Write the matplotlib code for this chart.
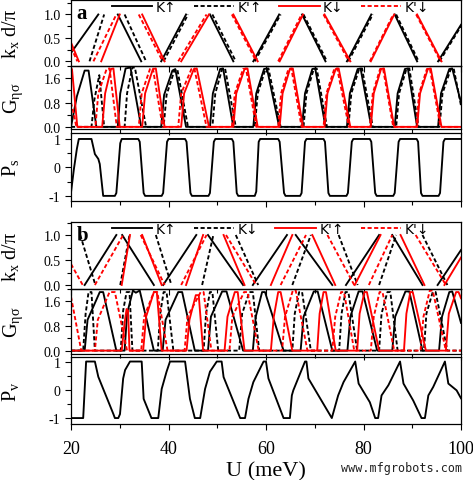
import numpy as np
import matplotlib
matplotlib.use('Agg')
import matplotlib.pyplot as plt
from matplotlib.ticker import MultipleLocator, FixedLocator, FixedFormatter

plt.rcParams['font.family'] = ['Liberation Serif', 'DejaVu Serif']
plt.rcParams['mathtext.fontset'] = 'custom'
plt.rcParams['mathtext.rm'] = 'Liberation Serif'
plt.rcParams['mathtext.it'] = 'Liberation Serif:italic'
plt.rcParams['axes.unicode_minus'] = False

# ---------------- panel a : k_x d / pi (segments of (U, value)) ----------------
kx_a_Kup = [[(20.0, 0.18), (25.6, 1.0)], [(29.6, 1.0), (34.4, 0.0)], [(38.5, 0.0), (43.6, 1.0)],
            [(48.5, 1.0), (53.3, 0.0)], [(57.4, 0.0), (62.7, 1.0)], [(67.4, 1.0), (72.2, 0.0)],
            [(76.6, 0.0), (81.6, 1.0)], [(86.4, 1.0), (91.0, 0.0)], [(95.3, 0.0), (100.0, 0.78)]]
kx_a_Kpup = [[(23.8, 0.0), (26.8, 1.0)], [(31.0, 1.0), (35.4, 0.0)], [(39.0, 0.0), (44.0, 1.0)],
             [(49.0, 1.0), (53.8, 0.0)], [(57.7, 0.0), (63.0, 1.0)], [(67.7, 1.0), (72.5, 0.0)],
             [(76.9, 0.0), (81.9, 1.0)], [(86.7, 1.0), (91.3, 0.0)], [(95.6, 0.0), (100.0, 0.75)]]
kx_a_Kdn = [[(20.0, 0.4), (21.6, 0.0)], [(26.2, 0.0), (30.0, 1.0)], [(34.6, 1.0), (39.2, 0.0)],
            [(42.6, 0.0), (48.3, 1.0)], [(53.3, 1.0), (58.3, 0.0)], [(62.8, 0.0), (67.6, 1.0)],
            [(72.0, 1.0), (77.3, 0.0)], [(81.5, 0.0), (86.3, 1.0)], [(91.0, 1.0), (96.0, 0.0)]]
kx_a_Kpdn = [[(20.0, 0.3), (21.3, 0.0)], [(24.6, 0.0), (29.3, 1.0)], [(33.9, 1.0), (38.8, 0.0)],
             [(42.0, 0.0), (47.8, 1.0)], [(53.0, 1.0), (58.0, 0.0)], [(62.5, 0.0), (67.3, 1.0)],
             [(71.8, 1.0), (77.0, 0.0)], [(81.3, 0.0), (86.1, 1.0)], [(90.8, 1.0), (95.8, 0.0)]]

# ---------------- panel a : G_eta sigma ----------------
G_a_Kup = [(20.0, 0.0), (21.2, 1.0), (22.8, 1.85), (23.6, 1.85), (25.2, 0.0),
           (29.6, 0.0), (30.1, 1.1), (31.2, 1.92), (32.2, 1.95), (34.4, 0.0),
           (38.5, 0.0), (39.1, 1.05), (40.8, 1.85), (41.4, 1.9), (43.6, 0.0),
           (48.5, 0.0), (49.1, 1.1), (50.6, 1.9), (51.2, 1.92), (53.3, 0.0),
           (57.4, 0.0), (58.0, 1.1), (59.6, 1.9), (60.2, 1.92), (62.7, 0.0),
           (67.4, 0.0), (68.0, 1.1), (69.5, 1.9), (70.1, 1.92), (72.2, 0.0),
           (76.6, 0.0), (77.2, 1.1), (78.8, 1.9), (79.4, 1.92), (81.6, 0.0),
           (86.4, 0.0), (87.0, 1.1), (88.5, 1.9), (89.1, 1.92), (91.0, 0.0),
           (95.3, 0.0), (95.9, 1.1), (97.6, 1.9), (98.2, 1.92), (100.0, 0.8)]
G_a_Kpup = [(20.0, 0.0), (24.2, 0.0), (24.8, 0.9), (25.8, 1.7), (26.8, 0.0),
            (31.0, 0.0), (31.5, 1.1), (32.6, 1.95), (33.1, 1.95), (35.4, 0.0),
            (39.0, 0.0), (39.6, 1.05), (41.2, 1.85), (41.8, 1.9), (44.0, 0.0),
            (49.0, 0.0), (49.6, 1.1), (51.0, 1.9), (51.6, 1.92), (53.8, 0.0),
            (57.7, 0.0), (58.3, 1.1), (59.9, 1.9), (60.5, 1.92), (63.0, 0.0),
            (67.7, 0.0), (68.3, 1.1), (69.8, 1.9), (70.4, 1.92), (72.5, 0.0),
            (76.9, 0.0), (77.5, 1.1), (79.1, 1.9), (79.7, 1.92), (81.9, 0.0),
            (86.7, 0.0), (87.3, 1.1), (88.8, 1.9), (89.4, 1.92), (91.3, 0.0),
            (95.6, 0.0), (96.2, 1.1), (97.9, 1.9), (98.5, 1.92), (100.0, 0.7)]
G_a_Kdn = [(20.0, 1.9), (20.2, 1.9), (21.3, 0.0),
           (26.4, 0.0), (27.0, 1.1), (28.2, 1.9), (28.7, 1.92), (30.0, 0.0),
           (34.6, 0.0), (35.2, 1.1), (36.8, 1.9), (37.4, 1.92), (39.2, 0.0),
           (42.6, 0.0), (43.2, 1.1), (45.2, 1.9), (45.8, 1.92), (48.3, 0.0),
           (53.3, 0.0), (53.9, 1.1), (55.6, 1.9), (56.2, 1.92), (58.3, 0.0),
           (62.8, 0.0), (63.4, 1.1), (64.9, 1.9), (65.5, 1.92), (67.6, 0.0),
           (72.0, 0.0), (72.6, 1.1), (74.3, 1.9), (74.9, 1.92), (77.3, 0.0),
           (81.5, 0.0), (82.1, 1.1), (83.6, 1.9), (84.2, 1.92), (86.3, 0.0),
           (91.0, 0.0), (91.6, 1.1), (93.2, 1.9), (93.8, 1.92), (96.0, 0.0), (100.0, 0.0)]
G_a_Kpdn = [(20.0, 0.8), (20.6, 0.4), (21.1, 0.0),
            (25.0, 0.0), (25.6, 1.1), (27.3, 1.9), (27.9, 1.92), (29.4, 0.0),
            (33.9, 0.0), (34.5, 1.1), (36.2, 1.9), (36.8, 1.92), (38.8, 0.0),
            (42.0, 0.0), (42.6, 1.1), (44.7, 1.9), (45.3, 1.92), (47.8, 0.0),
            (53.0, 0.0), (53.6, 1.1), (55.3, 1.9), (55.9, 1.92), (58.0, 0.0),
            (62.5, 0.0), (63.1, 1.1), (64.6, 1.9), (65.2, 1.92), (67.3, 0.0),
            (71.8, 0.0), (72.4, 1.1), (74.0, 1.9), (74.6, 1.92), (77.0, 0.0),
            (81.3, 0.0), (81.9, 1.1), (83.4, 1.9), (84.0, 1.92), (86.1, 0.0),
            (90.8, 0.0), (91.4, 1.1), (93.0, 1.9), (93.6, 1.92), (95.8, 0.0), (100.0, 0.0)]

# ---------------- panel a : P_s ----------------
P_s = [(20.0, -0.88), (20.6, -0.05), (21.2, 0.65), (21.6, 1.0), (24.2, 1.0), (24.9, 0.47), (25.6, 0.3),
       (25.9, 0.12), (26.6, -1.0), (29.0, -1.0), (29.3, -0.9), (30.1, 0.85), (30.4, 1.0), (33.8, 1.0),
       (34.1, 0.9), (34.9, -0.9), (35.2, -1.0), (38.6, -1.0), (38.9, -0.9), (39.7, 0.9), (40.0, 1.0),
       (43.4, 1.0), (43.7, 0.9), (44.5, -0.9), (44.8, -1.0), (48.2, -1.0), (48.5, -0.9), (49.3, 0.9),
       (49.6, 1.0), (53.0, 1.0), (53.3, 0.9), (54.0, -0.9), (54.3, -1.0), (57.7, -1.0), (58.0, -0.85),
       (58.5, 0.9), (58.8, 1.0), (62.5, 1.0), (62.8, 0.9), (63.7, -0.9), (64.0, -1.0), (67.0, -1.0),
       (67.3, -0.9), (68.0, 0.9), (68.3, 1.0), (71.8, 1.0), (72.1, 0.9), (72.8, -0.9), (73.1, -1.0),
       (76.5, -1.0), (76.8, -0.9), (77.6, 0.9), (77.9, 1.0), (81.3, 1.0), (81.6, 0.9), (82.4, -0.9),
       (82.7, -1.0), (86.1, -1.0), (86.4, -0.9), (87.2, 0.9), (87.5, 1.0), (90.9, 1.0), (91.2, 0.9),
       (91.8, -0.9), (92.1, -1.0), (95.4, -1.0), (95.7, -0.9), (96.4, 0.9), (96.7, 1.0), (100.0, 1.0)]

# ---------------- panel b : k_x d / pi ----------------
kx_b_Kup = [[(22.8, 0.0), (29.3, 1.0)], [(30.5, 1.0), (37.0, 0.0)], [(38.9, 0.0), (45.7, 1.0)],
            [(48.1, 1.0), (55.3, 0.0)], [(57.3, 0.0), (64.3, 1.0)], [(66.1, 1.0), (73.6, 0.0)],
            [(76.4, 0.0), (83.2, 1.0)], [(85.9, 1.0), (92.1, 0.0)], [(95.2, 0.0), (100.0, 0.7)]]
kx_b_Kdn = [[(21.9, 1.0), (25.0, 0.0)], [(30.1, 0.0), (32.0, 1.0)], [(37.4, 1.0), (40.6, 0.0)],
            [(46.9, 0.0), (49.2, 1.0)], [(53.8, 1.0), (58.4, 0.0)], [(65.4, 0.0), (69.2, 1.0)],
            [(74.9, 1.0), (78.8, 0.0)], [(83.2, 0.0), (86.7, 1.0)], [(92.1, 1.0), (97.2, 0.0)]]
kx_b_Kpup = [[(30.4, 0.0), (32.1, 1.0)], [(34.6, 1.0), (38.6, 0.0)], [(43.6, 0.0), (47.1, 1.0)],
             [(51.3, 1.0), (55.6, 0.0)], [(61.0, 0.0), (65.4, 1.0)], [(69.5, 1.0), (74.2, 0.0)],
             [(78.2, 0.0), (83.5, 1.0)], [(87.6, 1.0), (92.5, 0.0)], [(96.6, 0.0), (100.0, 0.55)]]
kx_b_Kpdn = [[(20.0, 0.42), (22.4, 0.0)], [(24.9, 0.0), (30.7, 1.0)], [(34.3, 1.0), (39.2, 0.0)],
             [(42.6, 0.0), (47.8, 1.0)], [(51.8, 1.0), (58.0, 0.0)], [(63.0, 0.0), (68.2, 1.0)],
             [(72.6, 1.0), (78.1, 0.0)], [(81.1, 0.0), (85.9, 1.0)], [(90.7, 1.0), (96.9, 0.0)]]

# ---------------- panel b : G_eta sigma ----------------
G_b_Kup = [(20.0, 0.0), (22.8, 0.0), (23.4, 1.0), (25.9, 1.9), (26.6, 1.9), (29.3, 0.0),
           (31.0, 0.0), (31.5, 1.2), (32.7, 1.95), (33.3, 1.88), (34.1, 1.95), (37.0, 0.0),
           (38.8, 0.0), (39.4, 1.0), (42.0, 1.9), (42.8, 1.9), (45.4, 0.0),
           (48.1, 0.0), (48.7, 1.1), (51.0, 1.92), (51.9, 1.92), (55.3, 0.0),
           (57.3, 0.0), (57.9, 1.1), (59.2, 1.9), (59.8, 1.9), (63.6, 0.0),
           (67.1, 0.0), (67.7, 1.1), (69.8, 1.92), (70.6, 1.92), (73.6, 0.0),
           (76.7, 0.0), (77.3, 1.1), (79.0, 1.92), (79.8, 1.92), (82.8, 0.0),
           (85.9, 0.0), (86.5, 1.1), (88.6, 1.92), (89.4, 1.92), (92.1, 0.0),
           (95.5, 0.0), (96.1, 1.1), (97.6, 1.9), (98.2, 1.92), (100.0, 0.9)]
G_b_Kdn = [(20.0, 0.0), (22.5, 0.0), (23.0, 1.2), (23.6, 1.9), (24.2, 1.9), (24.9, 0.0),
           (30.2, 0.0), (30.7, 1.3), (31.4, 1.9), (32.0, 1.9), (32.6, 0.0),
           (37.8, 0.0), (38.3, 1.2), (39.0, 1.9), (39.6, 1.9), (41.0, 0.0),
           (47.2, 0.0), (47.7, 1.2), (48.5, 1.9), (49.0, 1.9), (50.2, 0.0),
           (54.5, 0.0), (55.1, 1.2), (56.6, 1.9), (57.3, 1.9), (58.6, 0.0),
           (65.4, 0.0), (65.9, 1.2), (66.8, 1.9), (67.4, 1.9), (69.2, 0.0),
           (75.0, 0.0), (75.5, 1.2), (76.3, 1.9), (76.9, 1.9), (78.7, 0.0),
           (83.2, 0.0), (83.7, 1.2), (84.9, 1.9), (85.5, 1.9), (87.0, 0.0),
           (92.4, 0.0), (92.9, 1.2), (94.2, 1.9), (94.8, 1.9), (97.2, 0.0), (100.0, 0.0)]
G_b_Kpup = [(20.0, 0.0), (30.4, 0.0), (31.0, 0.9), (31.4, 1.35), (31.7, 1.3), (32.0, 0.0),
            (34.8, 0.0), (35.4, 1.1), (37.0, 1.9), (37.6, 1.9), (38.6, 0.0),
            (43.7, 0.0), (44.3, 1.0), (45.6, 1.8), (46.2, 1.8), (47.1, 0.0),
            (51.5, 0.0), (52.1, 1.1), (53.6, 1.9), (54.2, 1.9), (55.6, 0.0),
            (61.0, 0.0), (61.6, 1.1), (62.5, 1.9), (63.0, 1.9), (65.4, 0.0),
            (70.5, 0.0), (71.0, 1.2), (71.8, 1.9), (72.3, 1.9), (74.3, 0.0),
            (78.7, 0.0), (79.2, 1.2), (80.2, 1.9), (80.7, 1.9), (83.2, 0.0),
            (88.3, 0.0), (88.8, 1.2), (89.6, 1.9), (90.1, 1.9), (92.8, 0.0),
            (96.9, 0.0), (97.5, 1.2), (99.0, 1.9), (99.5, 1.9), (100.0, 1.7)]
G_b_Kpdn = [(20.0, 1.75), (22.1, 0.0),
            (24.9, 0.0), (25.5, 1.0), (27.9, 1.9), (29.0, 1.9), (31.5, 0.0),
            (34.4, 0.0), (35.0, 1.1), (37.0, 1.9), (37.7, 1.9), (39.8, 0.0),
            (43.3, 0.0), (43.9, 1.1), (46.6, 1.9), (47.2, 1.9), (48.8, 0.0),
            (52.5, 0.0), (53.1, 1.1), (55.5, 1.9), (56.2, 1.9), (58.5, 0.0),
            (63.3, 0.0), (63.9, 1.1), (65.5, 1.95), (66.1, 1.95), (68.5, 0.0),
            (73.6, 0.0), (74.2, 1.1), (75.4, 1.9), (76.0, 1.9), (78.1, 0.0),
            (81.5, 0.0), (82.1, 1.1), (83.3, 1.9), (83.9, 1.9), (86.3, 0.0),
            (91.7, 0.0), (92.3, 1.1), (93.6, 1.95), (94.2, 1.95), (96.9, 0.0), (100.0, 0.0)]

# ---------------- panel b : P_v ----------------
P_v = [(20.0, -1.0), (22.5, -1.0), (23.1, 1.0), (24.9, 1.0), (25.6, 0.46), (28.7, -0.86), (29.0, -1.0),
       (29.7, -1.0), (30.05, -0.86), (30.7, 0.4), (31.1, 0.7), (32.1, 1.0), (34.5, 1.0), (34.9, -0.32),
       (36.5, -1.0), (37.9, -1.0), (38.6, 0.03), (39.6, 0.64), (40.3, 1.0), (43.4, 1.0), (44.4, -0.32),
       (45.4, -1.0), (46.5, -1.0), (47.5, 0.03), (48.5, 0.64), (49.9, 1.0), (50.9, 1.0), (51.3, 0.45),
       (54.7, -1.0), (55.7, -1.0), (56.4, -0.32), (57.4, 0.27), (59.5, 1.0), (60.0, 1.0), (60.5, 0.4),
       (63.6, -1.0), (64.9, -1.0), (65.3, -0.2), (65.6, -0.02), (68.0, 1.0), (68.3, 1.0), (68.7, 0.4),
       (73.5, -1.0), (74.8, -0.2), (75.9, 0.27), (78.3, 1.0), (79.0, 0.22), (81.3, -0.44), (82.4, -1.0),
       (83.0, -1.0), (83.7, -0.2), (85.1, 0.16), (87.5, 1.0), (88.2, 0.22), (90.2, -0.38), (91.9, -1.0),
       (92.6, -1.0), (93.3, -0.2), (94.3, 0.1), (96.7, 1.0), (97.4, 0.22), (99.1, -0.02), (100.0, -0.3)]

legend_a = ["K↑", "K'↑", "K↓", "K'↓"]
legend_b = ["K↑", "K↓", "K'↑", "K'↓"]
styles = [('black', '-'), ('black', '--'), ('red', '-'), ('red', '--')]
xticks_major = [20, 40, 60, 80, 100]


def segs_to_xy(segs):
    xs, ys = [], []
    for s in segs:
        for u, v in s:
            xs.append(u)
            ys.append(v)
        xs.append(np.nan)
        ys.append(np.nan)
    return np.array(xs), np.array(ys)


def pts_to_xy(pts):
    a = np.array(pts, dtype=float)
    return a[:, 0], a[:, 1]


fig = plt.figure(figsize=(4.73, 4.81), dpi=100)
FW, FH = 473.0, 481.0
L, W = 71 / FW, 390 / FW


def add_ax(top, bottom):
    ax = fig.add_axes([L, 1 - bottom / FH, W, (bottom - top) / FH])
    ax.patch.set_visible(False)
    return ax


LW = 1.35
DASH = (2.2, 1.3)


def draw(ax, x, y, color, ls, label=None):
    if ls == '--':
        return ax.plot(x, y, color=color, lw=LW, dashes=DASH, label=label)[0]
    return ax.plot(x, y, color=color, lw=LW, ls='-', label=label)[0]


def style_axis(ax, bottom_labels=False, label_x=-0.128):
    ax.set_xlim(20, 100)
    ax.xaxis.set_major_locator(MultipleLocator(20))
    ax.xaxis.set_minor_locator(MultipleLocator(10))
    ax.tick_params(which='both', direction='out', top=False, right=False, width=0.8,
                   labelbottom=bottom_labels)
    ax.tick_params(which='major', length=4.5)
    ax.tick_params(which='minor', length=3)
    ax.tick_params(axis='y', labelsize=10, pad=3)
    ax.tick_params(axis='x', labelsize=13, pad=7)
    for sp in ax.spines.values():
        sp.set_linewidth(0.9)
    ax.yaxis.set_label_coords(label_x, 0.5)


def kx_panel(ax, series, labels, ylim, letter, letter_y):
    hs = []
    for segs, (c, ls), lab in zip(series, styles, labels):
        x, y = segs_to_xy(segs)
        hs.append(draw(ax, x, y, c, ls, lab))
    ax.set_ylim(*ylim)
    ax.yaxis.set_major_locator(FixedLocator([0.0, 0.5, 1.0]))
    ax.yaxis.set_major_formatter(FixedFormatter(['0.0', '0.5', '1.0']))
    ax.yaxis.set_minor_locator(MultipleLocator(0.25))
    ax.set_ylabel('k$_\\mathregular{x}$ d/π', fontsize=14.5)
    style_axis(ax)
    ax.text(0.015, letter_y, letter, transform=ax.transAxes, fontsize=15, fontweight='bold',
            va='center', ha='left')
    ax.legend(handles=hs, ncol=4, loc='upper left', bbox_to_anchor=(0.105, 0.995), frameon=False,
              borderpad=0, borderaxespad=0, handlelength=2.9, handletextpad=0.25, columnspacing=1.25,
              prop={'family': 'DejaVu Sans', 'size': 10})


def g_panel(ax, series, ylim):
    for pts, (c, ls) in zip(series, styles):
        x, y = pts_to_xy(pts)
        draw(ax, x, y, c, ls)
    ax.set_ylim(*ylim)
    ax.yaxis.set_major_locator(FixedLocator([0.0, 0.8, 1.6]))
    ax.yaxis.set_major_formatter(FixedFormatter(['0.0', '0.8', '1.6']))
    ax.yaxis.set_minor_locator(MultipleLocator(0.4))
    ax.set_ylabel('G$_\\mathregular{ησ}$', fontsize=14.5)
    style_axis(ax, label_x=-0.118)


def p_panel(ax, pts, ylim, lab, bottom_labels=False):
    x, y = pts_to_xy(pts)
    draw(ax, x, y, 'black', '-')
    ax.set_ylim(*ylim)
    ax.yaxis.set_major_locator(FixedLocator([-1, 0, 1]))
    ax.yaxis.set_major_formatter(FixedFormatter(['-1', '0', '1']))
    ax.yaxis.set_minor_locator(MultipleLocator(0.5))
    ax.set_ylabel(lab, fontsize=14.5)
    style_axis(ax, bottom_labels)


ax_ka = add_ax(0.5, 67)
ax_ga = add_ax(67, 130)
ax_pa = add_ax(134, 202)
ax_kb = add_ax(223, 290)
ax_gb = add_ax(290, 355)
ax_pb = add_ax(358, 425)

kx_panel(ax_ka, [kx_a_Kup, kx_a_Kpup, kx_a_Kdn, kx_a_Kpdn], legend_a, (-0.1, 1.32), 'a', 0.80)
g_panel(ax_ga, [G_a_Kup, G_a_Kpup, G_a_Kdn, G_a_Kpdn], (-0.07, 2.0))
p_panel(ax_pa, P_s, (-1.18, 1.21), 'P$_\\mathregular{s}$')

kx_panel(ax_kb, [kx_b_Kup, kx_b_Kdn, kx_b_Kpup, kx_b_Kpdn], legend_b, (-0.08, 1.26), 'b', 0.81)
g_panel(ax_gb, [G_b_Kup, G_b_Kdn, G_b_Kpup, G_b_Kpdn], (-0.11, 2.0))
p_panel(ax_pb, P_v, (-1.21, 1.16), 'P$_\\mathregular{v}$', bottom_labels=True)
ax_pb.set_xticks(xticks_major)
ax_pb.set_xticklabels([str(t) for t in xticks_major])
ax_pb.set_xlabel('U (meV)', fontsize=16, labelpad=3)

fig.text(0.978, 0.012, 'www.mfgrobots.com', ha='right', va='bottom', fontsize=8.5,
         family='DejaVu Sans Mono', color='#222222')

fig.savefig('out.png', dpi=100)
